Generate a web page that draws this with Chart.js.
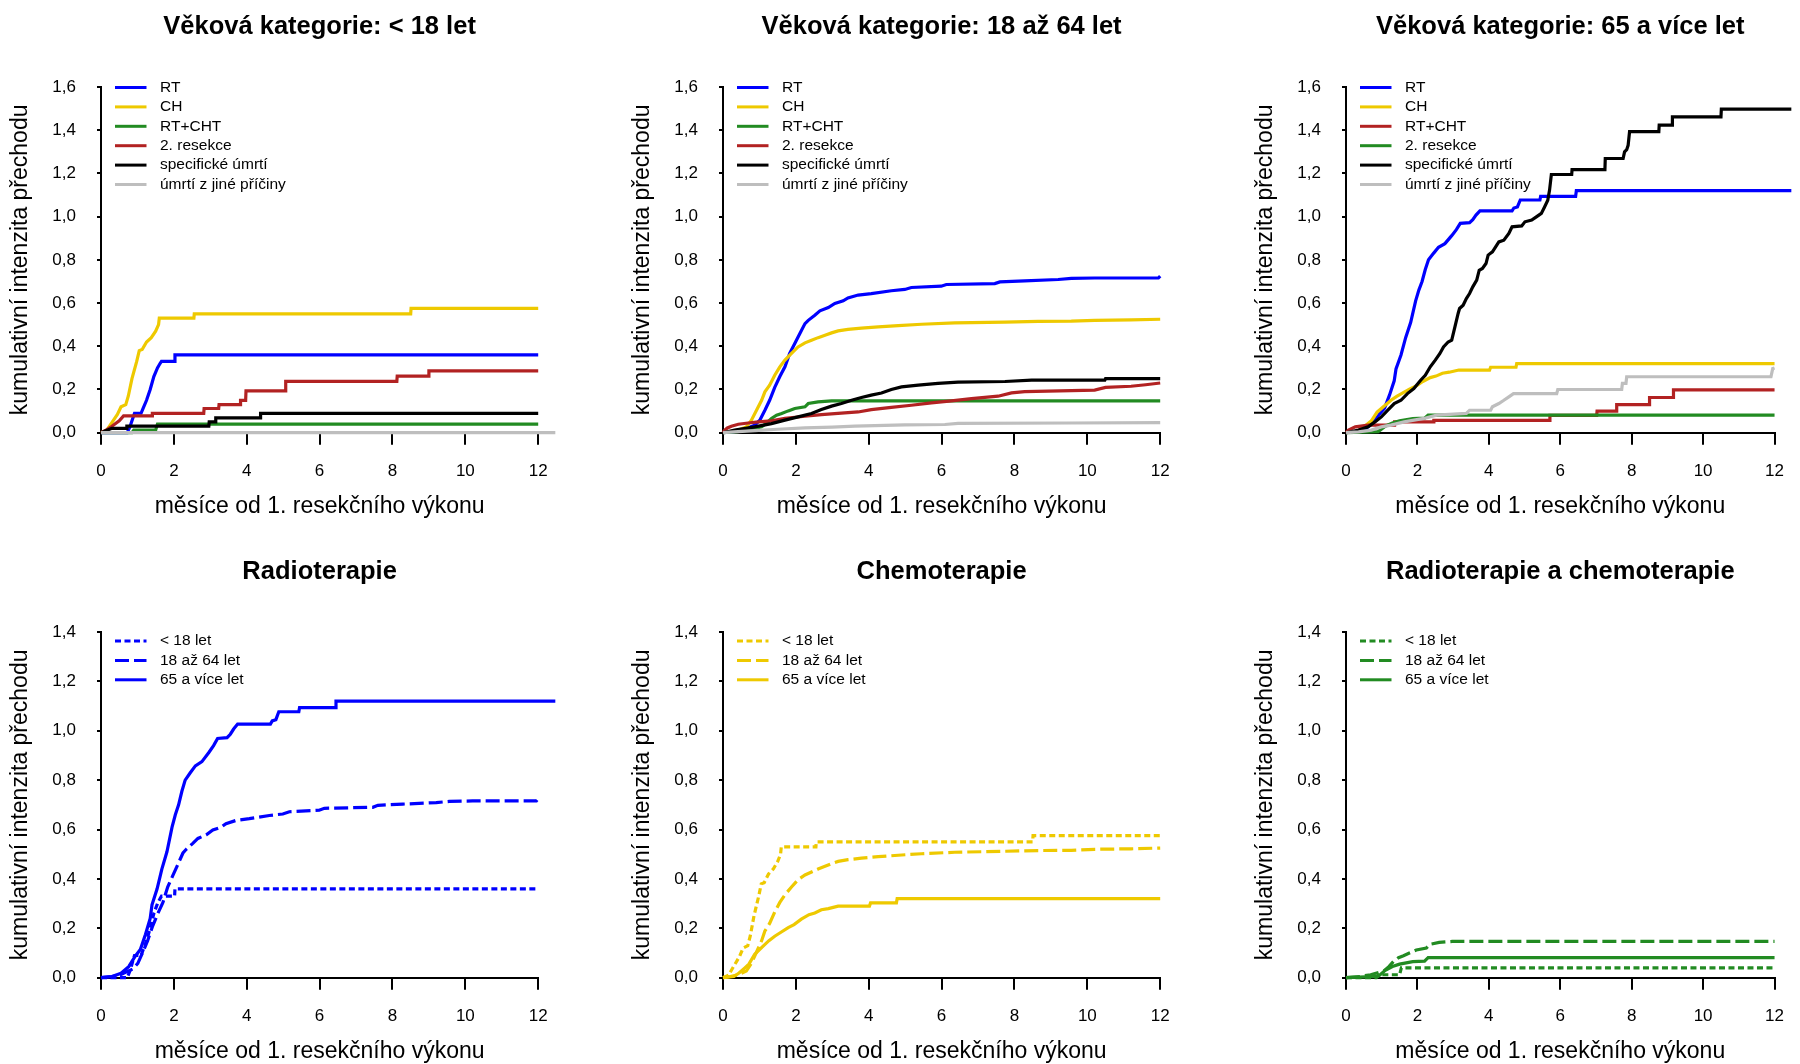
<!DOCTYPE html>
<html><head><meta charset="utf-8">
<script src="https://cdn.jsdelivr.net/npm/chart.js@4.4.1/dist/chart.umd.min.js"></script>
<style>
html,body{margin:0;padding:0;background:#fff;overflow:hidden;}
#wrap{position:relative;width:1800px;height:1064px;overflow:hidden;background:#fff;}
canvas{position:absolute;}
</style></head><body><div id="wrap">
<canvas id="c0" width="622" height="545" style="left:0px;top:0px"></canvas>
<canvas id="c1" width="622" height="545" style="left:622px;top:0px"></canvas>
<canvas id="c2" width="555" height="545" style="left:1245px;top:0px"></canvas>
<canvas id="c3" width="622" height="545" style="left:0px;top:545px"></canvas>
<canvas id="c4" width="622" height="545" style="left:622px;top:545px"></canvas>
<canvas id="c5" width="555" height="545" style="left:1245px;top:545px"></canvas>
</div>
<script>
// ---------- DATA: curve vertices [month, cumulative intensity] ----------
// age < 18
const lt18_RT    = [[0,0],[0.72,0],[0.8,0.03],[0.88,0.07],[0.92,0.09],[1.1,0.09],[1.15,0.11],[1.25,0.15],[1.35,0.2],[1.45,0.26],[1.55,0.3],[1.62,0.32],[1.66,0.33],[2.02,0.33],[2.03,0.36],[12,0.36]];
const lt18_CH    = [[0,0],[0.15,0.01],[0.45,0.085],[0.55,0.12],[0.68,0.13],[0.75,0.17],[0.85,0.25],[0.98,0.33],[1.05,0.38],[1.13,0.385],[1.25,0.42],[1.38,0.44],[1.5,0.47],[1.58,0.5],[1.6,0.53],[2.55,0.53],[2.56,0.55],[8.5,0.55],[8.51,0.575],[12,0.575]];
const lt18_RTCHT = [[0,0],[0.85,0],[0.9,0.012],[1.5,0.012],[1.55,0.04],[12,0.04]];
const lt18_RES   = [[0,0],[0.12,0.01],[0.3,0.03],[0.5,0.055],[0.62,0.078],[1.4,0.078],[1.41,0.089],[2.82,0.089],[2.83,0.112],[3.23,0.112],[3.24,0.13],[3.82,0.13],[3.83,0.15],[3.97,0.15],[3.98,0.194],[5.06,0.194],[5.07,0.238],[8.12,0.238],[8.13,0.262],[8.99,0.262],[9.0,0.286],[12,0.286]];
const lt18_DEATH = [[0,0],[0.15,0.01],[0.3,0.02],[0.7,0.02],[0.71,0.03],[2.96,0.03],[2.97,0.05],[3.14,0.05],[3.15,0.069],[4.37,0.069],[4.38,0.089],[12,0.089]];
const lt18_OTHER = [[0,0],[12.47,0]];
// age 18-64
const mid_RT    = [[0,0],[0.3,0.005],[0.5,0.01],[0.87,0.035],[1.01,0.058],[1.15,0.104],[1.28,0.15],[1.42,0.21],[1.56,0.26],[1.7,0.305],[1.83,0.367],[1.97,0.413],[2.11,0.459],[2.25,0.505],[2.34,0.52],[2.52,0.544],[2.66,0.564],[2.89,0.579],[3.07,0.598],[3.3,0.61],[3.43,0.624],[3.71,0.637],[4.07,0.644],[4.62,0.657],[4.99,0.663],[5.17,0.672],[5.99,0.678],[6.13,0.686],[7.46,0.69],[7.6,0.698],[8.28,0.703],[9.2,0.709],[9.56,0.714],[10.2,0.716],[11.95,0.716],[12,0.725]];
const mid_CH    = [[0,0],[0.2,0.005],[0.42,0.012],[0.64,0.027],[0.78,0.058],[0.92,0.104],[1.06,0.15],[1.15,0.189],[1.28,0.22],[1.42,0.266],[1.56,0.305],[1.7,0.336],[1.88,0.367],[2.06,0.397],[2.25,0.416],[2.43,0.428],[2.61,0.44],[2.8,0.451],[2.98,0.462],[3.16,0.471],[3.43,0.478],[3.8,0.484],[4.26,0.49],[4.81,0.496],[5.45,0.502],[6.36,0.508],[7.74,0.512],[8.65,0.515],[9.56,0.516],[10.2,0.52],[11.2,0.522],[12,0.525]];
const mid_RTCHT = [[0,0],[0.4,0.005],[0.69,0.012],[1.06,0.027],[1.2,0.045],[1.33,0.066],[1.47,0.081],[1.61,0.089],[1.79,0.101],[1.97,0.112],[2.25,0.12],[2.34,0.135],[2.61,0.143],[2.98,0.147],[12,0.147]];
const mid_RES   = [[0,0],[0.05,0.012],[0.12,0.022],[0.23,0.03],[0.42,0.039],[0.69,0.045],[0.97,0.05],[1.33,0.055],[1.7,0.066],[2.25,0.076],[2.7,0.084],[3.34,0.092],[3.71,0.096],[4.07,0.107],[4.62,0.117],[5.17,0.127],[5.72,0.138],[6.27,0.147],[6.82,0.158],[7.55,0.169],[7.92,0.184],[8.28,0.19],[10.2,0.197],[10.5,0.21],[11.2,0.215],[11.6,0.222],[12,0.23]];
const mid_DEATH = [[0,0],[0.32,0.012],[0.87,0.027],[1.33,0.042],[1.7,0.058],[2.06,0.073],[2.43,0.089],[2.7,0.107],[2.98,0.123],[3.25,0.135],[3.53,0.15],[3.8,0.163],[4.07,0.174],[4.35,0.184],[4.62,0.2],[4.9,0.212],[5.36,0.22],[5.9,0.228],[6.45,0.234],[7.74,0.237],[8.47,0.243],[10.48,0.243],[10.5,0.25],[12,0.25]];
const mid_OTHER = [[0,0],[0.3,0.004],[0.87,0.01],[1.5,0.016],[2.25,0.022],[3.0,0.026],[3.62,0.03],[4.99,0.036],[6.09,0.038],[6.45,0.043],[9.5,0.045],[12,0.047]];
// age 65+
const old_RT    = [[0,0],[0.3,0.005],[0.55,0.018],[0.76,0.045],[0.94,0.087],[1.08,0.114],[1.22,0.175],[1.35,0.24],[1.4,0.295],[1.54,0.36],[1.67,0.44],[1.81,0.51],[1.95,0.61],[2.04,0.66],[2.13,0.7],[2.22,0.755],[2.31,0.8],[2.45,0.83],[2.59,0.858],[2.77,0.875],[2.96,0.912],[3.09,0.94],[3.2,0.969],[3.46,0.972],[3.55,0.986],[3.64,1.007],[3.75,1.027],[4.65,1.027],[4.7,1.04],[4.8,1.045],[4.88,1.077],[5.43,1.077],[5.45,1.094],[6.43,1.094],[6.45,1.12],[12.47,1.12]];
const old_CH    = [[0,0],[0.3,0.005],[0.44,0.019],[0.6,0.04],[0.71,0.055],[0.87,0.095],[1.08,0.125],[1.26,0.15],[1.42,0.168],[1.58,0.183],[1.79,0.203],[1.95,0.215],[2.15,0.237],[2.36,0.255],[2.52,0.262],[2.7,0.275],[2.89,0.28],[3.16,0.29],[4.02,0.29],[4.05,0.303],[4.76,0.303],[4.78,0.32],[12,0.32]];
const old_RTCHT = [[0,0],[0.9,0.005],[1.1,0.03],[1.3,0.045],[1.5,0.055],[1.87,0.065],[2.2,0.067],[2.3,0.081],[12,0.081]];
const old_RES   = [[0,0],[0.07,0.012],[0.26,0.027],[0.62,0.035],[1.35,0.035],[1.36,0.05],[2.45,0.05],[2.46,0.057],[5.7,0.057],[5.71,0.08],[7.02,0.08],[7.03,0.1],[7.57,0.1],[7.58,0.13],[8.49,0.13],[8.5,0.163],[9.16,0.163],[9.17,0.198],[12,0.198]];
const old_DEATH = [[0,0],[0.35,0.012],[0.62,0.027],[0.81,0.05],[0.99,0.073],[1.17,0.104],[1.35,0.135],[1.54,0.15],[1.72,0.181],[1.9,0.204],[2.09,0.243],[2.22,0.266],[2.36,0.305],[2.5,0.336],[2.63,0.367],[2.73,0.397],[2.86,0.42],[2.96,0.428],[3.05,0.49],[3.14,0.552],[3.18,0.575],[3.28,0.59],[3.37,0.621],[3.46,0.644],[3.55,0.675],[3.66,0.706],[3.73,0.752],[3.82,0.76],[3.92,0.783],[3.98,0.822],[4.1,0.837],[4.19,0.86],[4.28,0.883],[4.42,0.891],[4.56,0.922],[4.65,0.953],[4.92,0.957],[5.01,0.976],[5.2,0.984],[5.33,0.999],[5.47,1.015],[5.56,1.045],[5.65,1.076],[5.7,1.123],[5.75,1.195],[6.32,1.195],[6.33,1.218],[7.25,1.218],[7.26,1.269],[7.76,1.269],[7.8,1.3],[7.86,1.31],[7.9,1.33],[7.94,1.393],[8.76,1.393],[8.77,1.424],[9.13,1.424],[9.14,1.462],[10.5,1.462],[10.51,1.498],[12.47,1.498]];
const old_OTHER = [[0,0],[0.35,0.004],[0.71,0.012],[0.99,0.027],[1.26,0.035],[1.63,0.05],[2.18,0.066],[2.54,0.081],[3.37,0.089],[3.46,0.104],[4.05,0.104],[4.1,0.12],[4.28,0.135],[4.42,0.15],[4.56,0.166],[4.69,0.181],[5.9,0.181],[5.93,0.2],[7.72,0.2],[7.74,0.228],[7.84,0.228],[7.86,0.259],[11.9,0.259],[11.95,0.297],[12,0.3]];

// ---------- LABELS / TICKS ----------
const transitionLabels = ['RT','CH','RT+CHT','2. resekce','specifické úmrtí','úmrtí z jiné příčiny'];
const panel3Labels     = ['RT','CH','RT+CHT','2. resekce','specifické úmrtí','úmrtí z jiné příčiny'];
const ageLabels = ['< 18 let','18 až 64 let','65 a více let'];
const panelTitles = ['Věková kategorie: < 18 let','Věková kategorie: 18 až 64 let','Věková kategorie: 65 a více let','Radioterapie','Chemoterapie','Radioterapie a chemoterapie'];
const xTitle = 'měsíce od 1. resekčního výkonu';
const yTitle = 'kumulativní intenzita přechodu';
const xTickValues = [0,2,4,6,8,10,12];
const xTickLabels = ['0','2','4','6','8','10','12'];
const yTickValuesTop = [0,0.2,0.4,0.6,0.8,1.0,1.2,1.4,1.6];
const yTickLabelsTop = ['0,0','0,2','0,4','0,6','0,8','1,0','1,2','1,4','1,6'];
const yTickValuesBottom = [0,0.2,0.4,0.6,0.8,1.0,1.2,1.4];
const yTickLabelsBottom = ['0,0','0,2','0,4','0,6','0,8','1,0','1,2','1,4'];

// ---------- STYLE ----------
const FONT = '"Liberation Sans", Arial, Helvetica, sans-serif';
const C = {blue:'#0000FF', gold:'#EEC900', green:'#228B22', red:'#B22222', black:'#000000', gray:'#BEBEBE'};
const DOT = [6,3.5], DASH = [14,5];

const panelDecor = {
  id: 'panelDecor',
  afterDraw(chart, args, o) {
    const ctx = chart.ctx, a = chart.chartArea;
    ctx.save();
    ctx.fillStyle = '#000';
    ctx.font = 'bold 25.5px ' + FONT;
    ctx.textAlign = 'center'; ctx.textBaseline = 'alphabetic';
    ctx.fillText(o.title, (a.left + a.right) / 2, a.top - 53.5);
    ctx.font = '15.5px ' + FONT;
    ctx.textAlign = 'left'; ctx.textBaseline = 'middle';
    chart.data.datasets.forEach((ds, i) => {
      const y = a.top + o.legendTop + i * 19.4;
      ctx.strokeStyle = ds.borderColor; ctx.lineWidth = 3; ctx.lineCap = 'butt';
      ctx.setLineDash(ds.borderDash || []);
      ctx.beginPath(); ctx.moveTo(a.left + 14, y); ctx.lineTo(a.left + 45.5, y); ctx.stroke();
      ctx.setLineDash([]);
      ctx.fillStyle = '#000';
      ctx.fillText(ds.label, a.left + 59, y);
    });
    ctx.restore();
  }
};

function series(label, pts, color, dash) {
  return { label, data: pts.map(p => ({x: p[0], y: p[1]})), borderColor: color, borderWidth: 3.2,
           borderDash: dash || [], tension: 0, pointRadius: 0, fill: false, clip: false,
           borderCapStyle: 'butt', borderJoinStyle: 'miter' };
}

function makePanel(id, title, datasets, yVals, yLabels, legendTop) {
  const cv = document.getElementById(id);
  const n = datasets.length;
  datasets.forEach((d, i) => { d.order = n - i; });
  new Chart(cv, {
    type: 'line',
    data: { datasets },
    plugins: [panelDecor],
    options: {
      responsive: false, animation: false, devicePixelRatio: 1, events: [],
      layout: { padding: { top: 87, right: cv.width - 538.2, bottom: 0, left: 0 } },
      plugins: { legend: { display: false }, tooltip: { enabled: false }, title: { display: false },
                 panelDecor: { title, legendTop } },
      scales: {
        x: { type: 'linear', min: 0, max: 12,
             afterBuildTicks: s => { s.ticks = xTickValues.map(v => ({ value: v })); },
             afterFit: s => { s.height = 112.3; },
             ticks: { callback: (v, i) => xTickLabels[i], color: '#000', font: { family: FONT, size: 17 }, padding: 16, maxRotation: 0, minRotation: 0, autoSkip: false },
             grid: { drawOnChartArea: false, drawTicks: true, tickLength: 12, color: '#000', lineWidth: 2 },
             border: { display: true, color: '#000', width: 2 },
             title: { display: true, text: xTitle, color: '#000', font: { family: FONT, size: 23 }, padding: { top: 0, bottom: 25 } } },
        y: { type: 'linear', min: 0, max: yVals[yVals.length - 1],
             afterBuildTicks: s => { s.ticks = yVals.map(v => ({ value: v })); },
             afterFit: s => { s.width = 101; },
             ticks: { callback: (v, i) => yLabels[i], color: '#000', font: { family: FONT, size: 17 }, padding: 21, autoSkip: false },
             grid: { drawOnChartArea: false, drawTicks: true, tickLength: 4, color: '#000', lineWidth: 2 },
             border: { display: true, color: '#000', width: 2 },
             title: { display: true, text: yTitle, color: '#000', font: { family: FONT, size: 23 }, padding: { top: 7, bottom: 0 } } }
      }
    }
  });
}

const colsStd = [C.blue, C.gold, C.green, C.red, C.black, C.gray];
const cols3   = [C.blue, C.gold, C.red, C.green, C.black, C.gray];
const L = transitionLabels;

makePanel('c0', panelTitles[0], [lt18_RT, lt18_CH, lt18_RTCHT, lt18_RES, lt18_DEATH, lt18_OTHER].map((d, i) => series(L[i], d, colsStd[i])), yTickValuesTop, yTickLabelsTop, 0.5);
makePanel('c1', panelTitles[1], [mid_RT, mid_CH, mid_RTCHT, mid_RES, mid_DEATH, mid_OTHER].map((d, i) => series(L[i], d, colsStd[i])), yTickValuesTop, yTickLabelsTop, 0.5);
makePanel('c2', panelTitles[2], [old_RT, old_CH, old_RES, old_RTCHT, old_DEATH, old_OTHER].map((d, i) => series(panel3Labels[i], d, cols3[i])), yTickValuesTop, yTickLabelsTop, 0.5);

const ageDash = [DOT, DASH, []];
makePanel('c3', panelTitles[3], [lt18_RT, mid_RT, old_RT].map((d, i) => series(ageLabels[i], d, C.blue, ageDash[i])), yTickValuesBottom, yTickLabelsBottom, 9);
makePanel('c4', panelTitles[4], [lt18_CH, mid_CH, old_CH].map((d, i) => series(ageLabels[i], d, C.gold, ageDash[i])), yTickValuesBottom, yTickLabelsBottom, 9);
makePanel('c5', panelTitles[5], [lt18_RTCHT, mid_RTCHT, old_RTCHT].map((d, i) => series(ageLabels[i], d, C.green, ageDash[i])), yTickValuesBottom, yTickLabelsBottom, 9);
</script>
</body></html>
